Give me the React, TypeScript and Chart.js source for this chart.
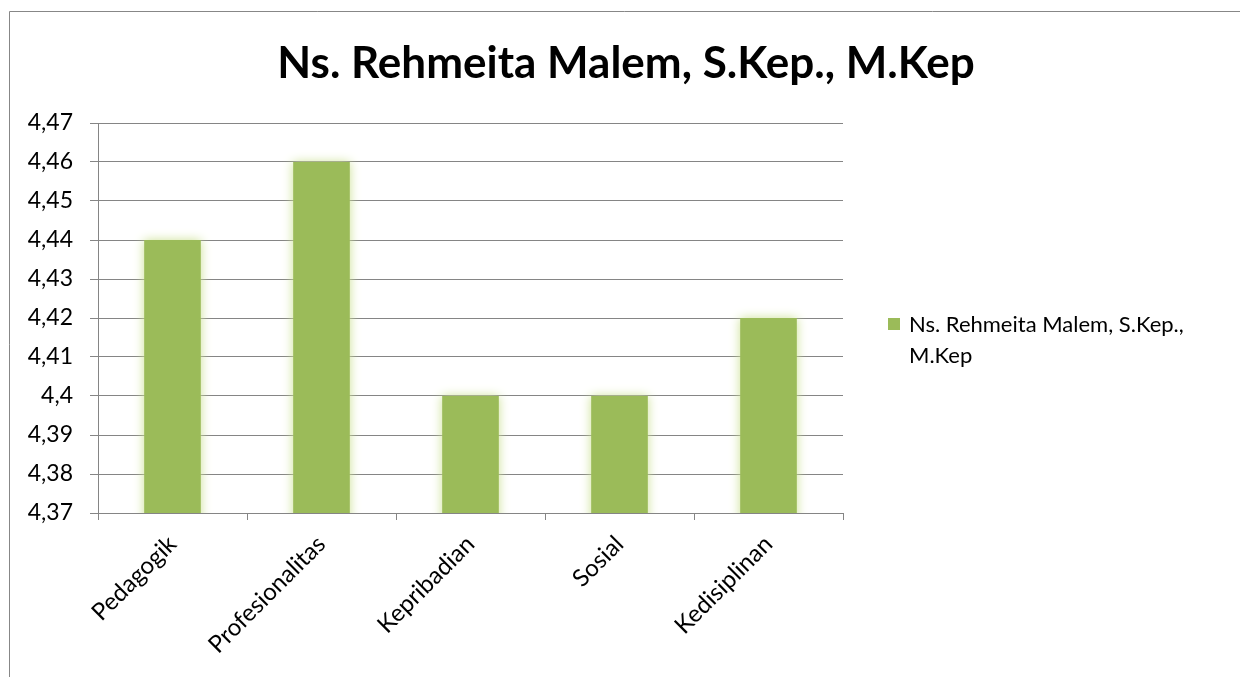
import React, { useEffect, useRef } from "react";
import { Chart, registerables } from "chart.js";

Chart.register(...registerables);

const chartTitle = "Ns. Rehmeita Malem, S.Kep., M.Kep";
const categories = ["Pedagogik", "Profesionalitas", "Kepribadian", "Sosial", "Kedisiplinan"];
const seriesLabel = "Ns. Rehmeita Malem, S.Kep., M.Kep";
const seriesValues = [4.44, 4.46, 4.4, 4.4, 4.42];
const legendLines = ["Ns. Rehmeita Malem, S.Kep.,", "M.Kep"];
const yMin = 4.37;
const yMax = 4.47;
const yStep = 0.01;

const FONT = "Lato, 'Open Sans', sans-serif";
const BAR = "#9bbb59";
const GRID = "#858585";

const decorPlugin = {
  id: "decor",
  beforeDatasetsDraw(chart: any) {
    const ctx = chart.ctx;
    ctx.save();
    ctx.shadowColor = "rgba(205,225,150,1)";
    ctx.shadowBlur = 10;
  },
  afterDatasetsDraw(chart: any) {
    chart.ctx.restore();
  },
  afterDraw(chart: any) {
    const ctx = chart.ctx;
    ctx.save();
    // outer frame
    ctx.strokeStyle = "#878787";
    ctx.lineWidth = 1;
    ctx.beginPath();
    ctx.moveTo(9.5, chart.height);
    ctx.lineTo(9.5, 11.5);
    ctx.lineTo(chart.width, 11.5);
    ctx.stroke();
    // title
    ctx.fillStyle = "#000";
    ctx.font = `bold 44px ${FONT}`;
    ctx.textAlign = "center";
    ctx.textBaseline = "alphabetic";
    ctx.fillText(chartTitle, 626, 78);
    // legend
    ctx.fillStyle = BAR;
    ctx.fillRect(888, 318, 12, 12);
    ctx.fillStyle = "#000";
    ctx.font = `22px ${FONT}`;
    ctx.textAlign = "left";
    legendLines.forEach((t, i) => ctx.fillText(t, 909, 332 + i * 31));
    ctx.restore();
  },
};

function fmt(v: number) {
  return String(Number(v.toFixed(2))).replace(".", ",");
}

export default function App() {
  const ref = useRef<HTMLCanvasElement>(null);
  useEffect(() => {
    if (!ref.current) return;
    const chart = new Chart(ref.current, {
      type: "bar",
      data: {
        labels: categories,
        datasets: [
          {
            label: seriesLabel,
            data: seriesValues,
            backgroundColor: BAR,
            borderWidth: 0,
            barPercentage: 0.38,
            categoryPercentage: 1,
          },
        ],
      },
      options: {
        responsive: false,
        animation: false,
        devicePixelRatio: 1,
        layout: { padding: { left: 0, top: 123, right: 397, bottom: 0 } },
        plugins: {
          legend: { display: false },
          title: { display: false },
          tooltip: { enabled: false },
        },
        scales: {
          x: {
            offset: true,
            grid: {
              display: true,
              offset: true,
              drawOnChartArea: false,
              drawTicks: true,
              tickLength: 7,
              color: GRID,
            },
            border: { display: true, color: GRID },
            ticks: {
              minRotation: 45,
              maxRotation: 45,
              autoSkip: false,
              color: "#000",
              padding: 10,
              font: { family: FONT, size: 24 },
            },
            afterFit(scale: any) {
              scale.height = 164;
            },
          },
          y: {
            min: yMin,
            max: yMax,
            grid: { color: GRID, tickLength: 8 },
            border: { display: true, color: GRID },
            ticks: {
              stepSize: yStep,
              color: "#000",
              padding: 17,
              font: { family: FONT, size: 23 },
              callback: (v: any) => fmt(Number(v)),
            },
            afterFit(scale: any) {
              scale.width = 98;
            },
          },
        },
      },
      plugins: [decorPlugin],
    });
    return () => chart.destroy();
  }, []);
  return (
    <div style={{ position: "absolute", left: 0, top: 0, width: 1240, height: 677, background: "#fff" }}>
      <canvas ref={ref} width={1240} height={677} style={{ width: 1240, height: 677, display: "block" }} />
    </div>
  );
}
